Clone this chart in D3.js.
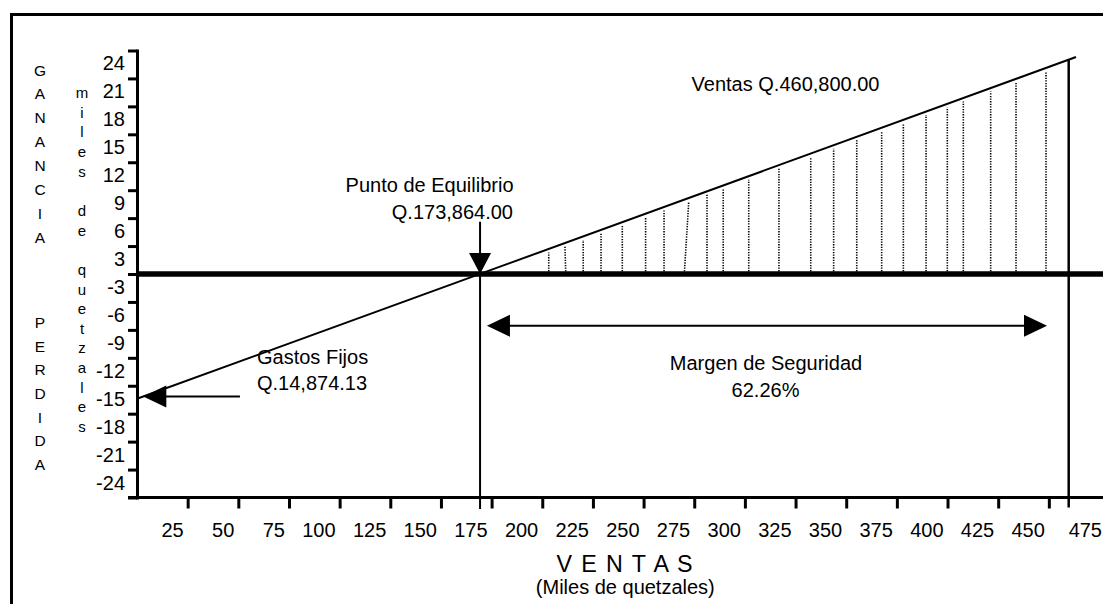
<!DOCTYPE html>
<html>
<head>
<meta charset="utf-8">
<script src="https://cdnjs.cloudflare.com/ajax/libs/d3/7.8.5/d3.min.js"></script>
<style>
  html, body { margin: 0; padding: 0; background: #fff; }
  svg { display: block; }
  text { font-family: "Liberation Sans", Arial, Helvetica, sans-serif; fill: #000; }
</style>
</head>
<body>
<svg id="chart" width="1103" height="604"></svg>
<script>
// ---------------- data ----------------
const xTickValues = [25, 50, 75, 100, 125, 150, 175, 200, 225, 250, 275, 300, 325, 350, 375, 400, 425, 450];
const xLabelValues = [25, 50, 75, 100, 125, 150, 175, 200, 225, 250, 275, 300, 325, 350, 375, 400, 425, 450, 475];
const yTickValues = [-24, -21, -18, -15, -12, -9, -6, -3, 0, 3, 6, 9, 12, 15, 18, 21, 24];
const yLabelValues = [24, 21, 18, 15, 12, 9, 6, 3, -3, -6, -9, -12, -15, -18, -21, -24];

// profit line (ventas in miles, ganancia in miles)
const profitVentas = [0, 463.4];
const profitGanancia = [-13.4, 23.3];

const breakEvenVentas = 169.3;
const ventasTotales = 459.8;

// dotted hatching lines in the profit area (bottom / top ventas)
const hatchBottom = [203.2, 211.6, 220.2, 229.0, 239.5, 251.0, 260.1, 270.1, 281.3, 289.3, 301.9, 316.8, 332.5, 343.8, 355.2, 367.5, 378.2, 389.4, 399.9, 407.8, 421.3, 433.8, 448.6];
const hatchTop    = [203.2, 211.2, 220.2, 229.0, 239.5, 251.0, 260.1, 272.3, 281.3, 289.3, 301.9, 316.8, 332.5, 343.8, 355.2, 367.5, 378.2, 389.4, 399.9, 407.8, 421.3, 433.8, 448.6];

// annotations
const txtVentas = "Ventas Q.460,800.00";
const txtPunto = ["Punto de Equilibrio", "Q.173,864.00"];
const txtGastos = ["Gastos Fijos", "Q.14,874.13"];
const txtMargen = ["Margen de Seguridad", "62.26%"];
const txtXTitle = "V E N T A S";
const txtXSub = "(Miles de quetzales)";
const txtGanancia = "GANANCIA";
const txtPerdida = "PERDIDA";
const txtMiles = "miles de quetzales";

// annotation anchors in data units
const puntoArrowTop = 5.6;
const gastosArrow = { from: 50.8, to: 3.1, g: -13.15 };
const margenArrow = { from: 172.7, to: 449.1, g: -5.57 };

// ---------------- drawing ----------------
const W = 1103, H = 604;
const svg = d3.select("#chart");

const x = d3.scaleLinear().domain([0, 475]).range([137, 1099.5]);
const y = d3.scaleLinear().domain([-24, 24]).range([497.5, 50.5]);

const gan = v => profitGanancia[0] + (profitGanancia[1] - profitGanancia[0]) * (v - profitVentas[0]) / (profitVentas[1] - profitVentas[0]);

// outer frame
svg.append("rect")
  .attr("x", 11.5).attr("y", 14.5)
  .attr("width", 1300).attr("height", 800)
  .attr("fill", "none").attr("stroke", "#000").attr("stroke-width", 3);

// hatching
svg.append("g").selectAll("line")
  .data(hatchBottom.map((b, i) => ({ b, t: hatchTop[i] })))
  .join("line")
  .attr("x1", d => x(d.b)).attr("y1", y(0))
  .attr("x2", d => x(d.t)).attr("y2", d => y(gan(d.t)) + 3.5)
  .attr("stroke", "#000").attr("stroke-width", 1.6)
  .attr("stroke-dasharray", "1.3 1.3");

// profit line
svg.append("path")
  .datum(profitVentas.map((v, i) => ({ v, g: profitGanancia[i] })))
  .attr("d", d3.line().x(d => x(d.v)).y(d => y(d.g)))
  .attr("fill", "none").attr("stroke", "#000").attr("stroke-width", 2);

// zero line
svg.append("line")
  .attr("x1", x(0)).attr("x2", W)
  .attr("y1", y(0)).attr("y2", y(0))
  .attr("stroke", "#000").attr("stroke-width", 5.5);

// vertical lines: break-even and total sales
svg.append("line")
  .attr("x1", x(breakEvenVentas)).attr("x2", x(breakEvenVentas))
  .attr("y1", y(puntoArrowTop)).attr("y2", y(-24) + 11.5)
  .attr("stroke", "#000").attr("stroke-width", 2);
svg.append("line")
  .attr("x1", x(ventasTotales)).attr("x2", x(ventasTotales))
  .attr("y1", y(gan(ventasTotales))).attr("y2", y(-24) + 10)
  .attr("stroke", "#000").attr("stroke-width", 2.5);

// y axis
const yAxisG = svg.append("g")
  .attr("transform", `translate(${x(0)},0)`)
  .call(d3.axisLeft(y).tickValues(yTickValues).tickSize(9).tickSizeOuter(0).tickFormat(""));
yAxisG.select(".domain").attr("stroke-width", 3).attr("stroke-linecap", "square");
yAxisG.selectAll(".tick line").attr("stroke-width", 3);

// x axis
svg.append("line")
  .attr("x1", x(0) - 9).attr("x2", W)
  .attr("y1", y(-24)).attr("y2", y(-24))
  .attr("stroke", "#000").attr("stroke-width", 3);
const xAxisG = svg.append("g")
  .attr("transform", `translate(0,${y(-24)})`)
  .call(d3.axisBottom(x).tickValues(xTickValues).tickSize(11).tickSizeOuter(0).tickFormat(""));
xAxisG.select(".domain").remove();
xAxisG.selectAll(".tick line").attr("stroke-width", 3);

// x labels (right-aligned just left of each tick; last one kept inside the edge)
svg.append("g").selectAll("text")
  .data(xLabelValues)
  .join("text")
  .attr("x", (d, i) => i === xLabelValues.length - 1 ? W - 1 : x(d) - 4)
  .attr("y", 537)
  .attr("text-anchor", "end")
  .attr("font-size", 20)
  .text(d => d);

// y labels (between ticks, toward zero)
svg.append("g").selectAll("text")
  .data(yLabelValues)
  .join("text")
  .attr("x", 125)
  .attr("y", d => y(d - Math.sign(d) * 1.5) - 1 + 7)
  .attr("text-anchor", "end")
  .attr("font-size", 20)
  .text(d => d);

// vertical letter labels
function vertical(str, cx, y0, step, size) {
  svg.append("g").selectAll("text")
    .data(str.split(""))
    .join("text")
    .attr("x", cx).attr("y", (d, i) => y0 + i * step)
    .attr("text-anchor", "middle")
    .attr("font-size", size)
    .text(d => d === " " ? "" : d);
}
vertical(txtGanancia, 40, 75.6, 23.86, 15.5);
vertical(txtPerdida, 40, 328.3, 23.55, 15.5);
vertical(txtMiles, 82, 98, 19.65, 15);

// arrowhead helper
function arrowHead(tipX, tipY, dir, len, half) {
  let pts;
  if (dir === "down") pts = [[tipX, tipY], [tipX - half, tipY - len], [tipX + half, tipY - len]];
  if (dir === "left") pts = [[tipX, tipY], [tipX + len, tipY - half], [tipX + len, tipY + half]];
  if (dir === "right") pts = [[tipX, tipY], [tipX - len, tipY - half], [tipX - len, tipY + half]];
  svg.append("path").attr("d", "M" + pts.join("L") + "Z").attr("fill", "#000");
}

// break-even arrow head
arrowHead(x(breakEvenVentas), y(0), "down", 21, 11);

// gastos fijos arrow
svg.append("line")
  .attr("x1", x(gastosArrow.from)).attr("x2", x(gastosArrow.to) + 20)
  .attr("y1", y(gastosArrow.g)).attr("y2", y(gastosArrow.g))
  .attr("stroke", "#000").attr("stroke-width", 2);
arrowHead(x(gastosArrow.to), y(gastosArrow.g), "left", 23, 11);

// margen de seguridad arrow
svg.append("line")
  .attr("x1", x(margenArrow.from) + 20).attr("x2", x(margenArrow.to) - 20)
  .attr("y1", y(margenArrow.g)).attr("y2", y(margenArrow.g))
  .attr("stroke", "#000").attr("stroke-width", 2);
arrowHead(x(margenArrow.from), y(margenArrow.g), "left", 23, 11);
arrowHead(x(margenArrow.to), y(margenArrow.g), "right", 23, 11);

// annotation texts
function label(str, px, py, anchor, size) {
  return svg.append("text").attr("x", px).attr("y", py)
    .attr("text-anchor", anchor).attr("font-size", size).text(str);
}
label(txtVentas, 879.5, 91, "end", 20);
label(txtPunto[0], 513.5, 192, "end", 20);
label(txtPunto[1], 513, 219, "end", 20);
label(txtGastos[0], 257, 363.5, "start", 20);
label(txtGastos[1], 257, 389.5, "start", 20);
label(txtMargen[0], 766, 370, "middle", 20);
label(txtMargen[1], 765.5, 396.7, "middle", 20);
label(txtXTitle, 556.5, 571.7, "start", 23.3).attr("letter-spacing", 1.4);
label(txtXSub, 625.3, 594, "middle", 20);
</script>
</body>
</html>
